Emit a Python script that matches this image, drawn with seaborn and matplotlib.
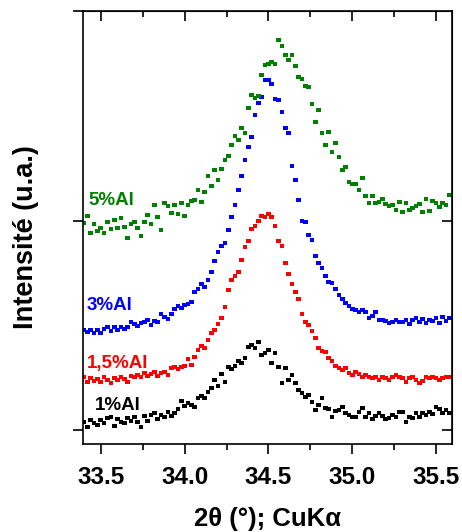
import numpy as np
import pandas as pd
import seaborn as sns
import matplotlib
matplotlib.use("Agg")
import matplotlib.pyplot as plt
from matplotlib.ticker import MultipleLocator, NullFormatter

# scan grid, 2theta in degrees (step 0.02)
two_theta = np.round(33.40 + 0.02 * np.arange(110), 2)

# intensities (arbitrary units, curves already offset as in the figure)
al_1 = [22, 17, 24, 21, 19, 24, 21, 26, 27, 18,
        25, 22, 21, 26, 23, 27, 22, 17, 28, 23,
        29, 31, 25, 29, 27, 32, 28, 31, 35, 43,
        38, 41, 39, 37, 46, 48, 46, 52, 56, 64,
        58, 70, 62, 77, 75, 78, 83, 81, 86, 97,
        99, 96, 102, 89, 91, 94, 81, 91, 77, 61,
        76, 64, 69, 61, 54, 51, 47, 49, 42, 34,
        39, 46, 36, 35, 27, 33, 34, 37, 31, 29,
        27, 27, 32, 36, 27, 31, 25, 28, 31, 28,
        25, 26, 29, 27, 32, 32, 22, 27, 26, 31,
        27, 31, 29, 32, 30, 37, 35, 31, 34, 31]

al_1_5 = [67, 62, 66, 63, 65, 62, 67, 64, 61, 66,
          64, 67, 65, 62, 68, 67, 69, 67, 71, 68,
          70, 72, 68, 71, 72, 69, 76, 77, 75, 77,
          78, 85, 79, 87, 94, 98, 96, 104, 111, 114,
          120, 126, 137, 154, 164, 168, 172, 184, 197, 203,
          215, 218, 223, 228, 227, 230, 227, 218, 203, 198,
          181, 170, 160, 152, 145, 130, 122, 119, 113, 106,
          96, 93, 92, 86, 83, 78, 76, 74, 76, 71,
          69, 72, 70, 67, 69, 67, 66, 67, 64, 67,
          66, 64, 67, 69, 67, 66, 62, 66, 67, 64,
          61, 63, 67, 66, 67, 66, 64, 66, 67, 67]

al_3 = [114, 112, 114, 111, 114, 111, 115, 117, 113, 117,
        114, 117, 115, 117, 122, 120, 118, 121, 122, 124,
        119, 123, 122, 130, 127, 125, 130, 135, 138, 136,
        139, 140, 142, 152, 155, 160, 157, 164, 172, 183,
        192, 198, 201, 214, 227, 239, 254, 268, 284, 297,
        307, 329, 341, 347, 364, 364, 360, 345, 344, 332,
        316, 311, 278, 264, 244, 223, 222, 209, 204, 188,
        181, 176, 168, 162, 161, 155, 149, 145, 141, 138,
        135, 134, 132, 134, 132, 126, 128, 132, 124, 124,
        123, 121, 122, 124, 122, 122, 124, 120, 124, 126,
        122, 125, 121, 124, 123, 126, 121, 127, 123, 126]

al_5 = [221, 228, 211, 220, 213, 216, 211, 222, 215, 224,
        216, 226, 217, 206, 220, 222, 216, 208, 222, 229,
        220, 239, 227, 214, 241, 238, 231, 239, 230, 241,
        228, 239, 243, 244, 254, 242, 252, 268, 258, 274,
        264, 275, 284, 288, 299, 308, 304, 316, 311, 336,
        349, 346, 348, 369, 379, 380, 382, 380, 404, 398,
        389, 384, 389, 378, 367, 365, 358, 357, 340, 322,
        334, 311, 299, 312, 292, 301, 287, 274, 277, 262,
        260, 260, 254, 266, 248, 241, 248, 241, 242, 245,
        240, 238, 239, 234, 242, 232, 241, 234, 236, 238,
        240, 232, 245, 233, 243, 241, 237, 241, 239, 249]

samples = ["1%Al", "1,5%Al", "3%Al", "5%Al"]
colors = ["black", "#ff0000", "#0000ff", "#008000"]

df = pd.concat([
    pd.DataFrame({"two_theta": two_theta, "intensity": vals, "sample": name})
    for name, vals in zip(samples, [al_1, al_1_5, al_3, al_5])
])

sns.set_style("ticks", {"axes.labelcolor": "black", "text.color": "black",
                        "xtick.color": "black", "ytick.color": "black",
                        "axes.edgecolor": "black"})
plt.rcParams["font.family"] = ["Liberation Sans", "DejaVu Sans"]
plt.rcParams["font.weight"] = "bold"

fig = plt.figure(figsize=(4.62, 5.32), dpi=100)
ax = fig.add_axes([0.1797, 0.1654, 0.7987, 0.8139])

sns.scatterplot(data=df, x="two_theta", y="intensity", hue="sample",
                palette=dict(zip(samples, colors)), marker="s", s=11,
                linewidth=0, legend=False, ax=ax)

ax.set_xlim(33.394, 35.595)
ax.set_ylim(0, 433)

for side in ["left", "right", "top", "bottom"]:
    ax.spines[side].set_visible(True)
    ax.spines[side].set_linewidth(1.2)
    ax.spines[side].set_color("black")

# bottom / left ticks point out
ax.xaxis.set_minor_locator(MultipleLocator(0.25))
ax.set_yticks([14, 223.5, 433])
ax.yaxis.set_major_formatter(NullFormatter())
ax.tick_params(axis="both", which="major", direction="out", length=7,
               width=1.2, color="black", labelcolor="black",
               labelsize=17.5, pad=9)
ax.tick_params(axis="x", which="minor", direction="out", length=4, width=1.2)
ax.set_xticks([33.5, 34.0, 34.5, 35.0, 35.5])
ax.set_xticklabels(["33.5", "34.0", "34.5", "35.0", "35.5"], fontweight="bold")

# top / right ticks point in
top = ax.secondary_xaxis("top")
top.xaxis.set_major_locator(MultipleLocator(0.5))
top.xaxis.set_minor_locator(MultipleLocator(0.25))
top.tick_params(which="major", direction="in", length=7, width=1.2, labeltop=False)
top.tick_params(which="minor", direction="in", length=4, width=1.2)
right = ax.secondary_yaxis("right")
right.set_yticks([14, 223.5])
right.tick_params(direction="in", length=7, width=1.2, labelright=False)

ax.set_xlabel("2θ (°); CuKα", fontsize=18.5, fontweight="bold",
              va="baseline", color="black")
ax.xaxis.set_label_coords(0.5, -0.1894)
ax.set_ylabel("Intensité (u.a.)", fontsize=19.5, fontweight="bold", color="black")
ax.yaxis.set_label_coords(-0.120, 0.479)

label_pos = {"5%Al": (33.428, 239), "3%Al": (33.416, 134),
             "1,5%Al": (33.416, 76), "1%Al": (33.464, 34)}
for name, col in zip(samples, colors):
    lx, ly = label_pos[name]
    ax.text(lx, ly, name, color=col, fontsize=13.5, fontweight="bold",
            ha="left", va="baseline")

fig.savefig("out.png", dpi=100)
